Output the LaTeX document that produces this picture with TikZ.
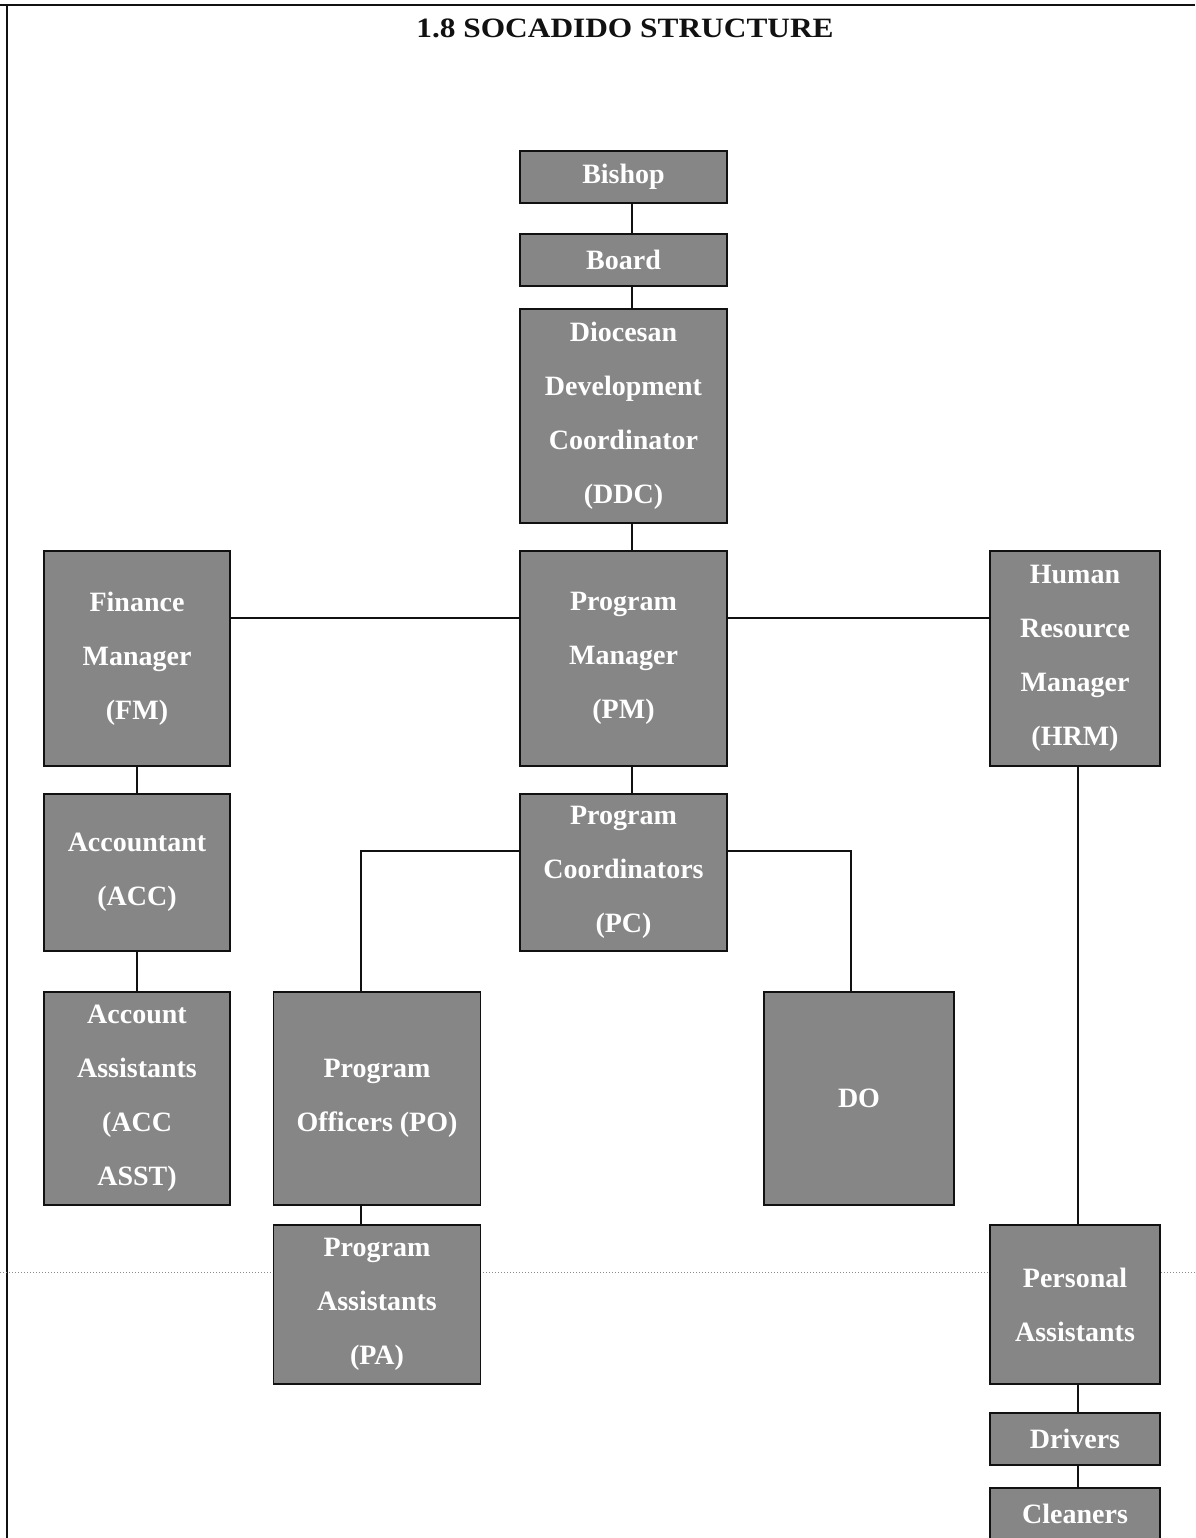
\documentclass[tikz,border=0pt]{standalone}
\usepackage{fontspec}
\setmainfont{Liberation Serif}
\usepackage{xcolor}
\usepackage{tikz}
\usetikzlibrary{positioning,calc}
\definecolor{ink}{HTML}{111111}
\definecolor{shade}{HTML}{868686}
\definecolor{dots}{HTML}{8A8A8A}
\tikzset{
  orgbox/.style={draw=ink,line width=1.8pt,fill=shade,text=white,inner sep=0pt,align=center,font={\fontsize{28}{54}\selectfont\bfseries}},
  wide/.style={orgbox,minimum width=207pt},
  side/.style={orgbox,minimum width=186pt},
  hr/.style={orgbox,minimum width=170pt},
  link/.style={draw=ink,line width=2pt},
  frame/.style={draw=ink,line width=2.2pt},
}
\begin{document}
\begin{tikzpicture}[x=1pt,y=-1pt]
    \useasboundingbox (0,0) rectangle (1195,1538);
    \draw[frame] (0,5) -- (1195,5); \draw[frame] (7,5) -- (7,1538);
    \draw[dots,line width=1pt,dotted] (0,1272) -- (1195,1272);
    \node[font={\fontsize{28}{32}\selectfont\bfseries},text=ink] (title) at (625,28) {\scalebox{1.12}[1]{1.8 SOCADIDO STRUCTURE}};
    % centre column
    \node[wide,minimum height=52pt] (bishop) at (623.5,177) {Bishop};
    \node[wide,minimum height=52pt] (board) at (623.5,260) {Board};
    \node[wide,minimum height=214pt] (ddc) at (623.5,416) {Diocesan\\Development\\Coordinator\\(DDC)};
    \node[wide,minimum height=215pt] (pm) at (623.5,658.5) {Program\\Manager\\(PM)};
    \node[wide,minimum height=157pt] (pc) at (623.5,872.5) {Program\\Coordinators\\(PC)};
    % finance side
    \node[side,minimum height=215pt] (fm) at (137,658.5) {Finance\\Manager\\(FM)};
    \node[side,minimum height=157pt] (acc) at (137,872.5) {Accountant\\(ACC)};
    \node[side,minimum height=213pt] (accasst) at (137,1098.5) {Account\\Assistants\\(ACC\\ASST)};
    % programs
    \node[wide,minimum height=213pt] (po) at (377,1098.5) {Program\\Officers (PO)};
    \node[wide,minimum height=159pt] (pa) at (377,1304.5) {Program\\Assistants\\(PA)};
    \node[orgbox,minimum width=190pt,minimum height=213pt] (do) at (859,1098.5) {DO};
    % human resources
    \node[hr,minimum height=215pt] (hrm) at (1075,658.5) {Human\\Resource\\Manager\\(HRM)};
    \node[hr,minimum height=159pt] (persa) at (1075,1304.5) {Personal\\Assistants};
    \node[hr,minimum height=52pt] (drivers) at (1075,1439) {Drivers};
    \node[hr,minimum height=52pt] (cleaners) at (1075,1514) {Cleaners};
    % links
    \draw[link] ([xshift=8pt]bishop.south) -- ([xshift=8pt]board.north);
    \draw[link] ([xshift=8pt]board.south) -- ([xshift=8pt]ddc.north);
    \draw[link] ([xshift=8pt]ddc.south) -- ([xshift=8pt]pm.north);
    \draw[link] ([xshift=8pt]pm.south) -- ([xshift=8pt]pc.north);
    \draw[link] ([yshift=41pt]fm.east) -- ([yshift=41pt]pm.west);
    \draw[link] ([yshift=41pt]pm.east) -- ([yshift=41pt]hrm.west);
    \draw[link] (fm) -- (acc); \draw[link] (acc) -- (accasst);
    \draw[link] ([yshift=22pt]pc.west) -| ([xshift=-16pt]po.north);
    \draw[link] ([yshift=22pt]pc.east) -| ([xshift=-8pt]do.north);
    \draw[link] ([xshift=-16pt]po.south) -- ([xshift=-16pt]pa.north);
    \draw[link] ([xshift=3pt]hrm.south) -- ([xshift=3pt]persa.north);
    \draw[link] ([xshift=3pt]persa.south) -- ([xshift=3pt]drivers.north);
    \draw[link] ([xshift=3pt]drivers.south) -- ([xshift=3pt]cleaners.north);
\end{tikzpicture}
\end{document}
